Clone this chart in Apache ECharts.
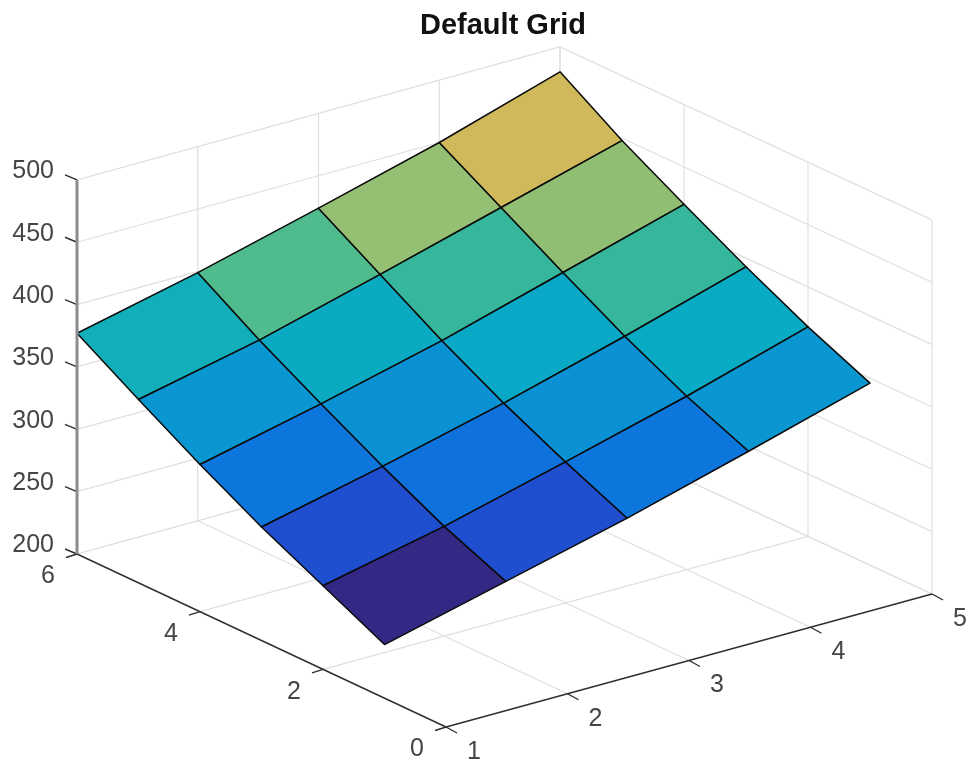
<!DOCTYPE html>
<html>
<head>
<meta charset="utf-8">
<style>html,body{margin:0;padding:0;background:#fff}#c{width:970px;height:762px}</style>
<script src="https://cdn.jsdelivr.net/npm/echarts@6/dist/echarts.min.js"></script>
</head>
<body>
<div id="c"></div>
<script>
// ---- data ----
var titleText = 'Default Grid';
var xValues = [1, 2, 3, 4, 5];
var yValues = [1, 2, 3, 4, 5, 6];
var xTicks = [1, 2, 3, 4, 5];
var yTicks = [0, 2, 4, 6];
var zTicks = [200, 250, 300, 350, 400, 450, 500];
var zRow1 = [243, 267, 291, 318, 346];
var zRow2 = [267, 288, 313, 339, 368];
var zRow3 = [291, 313, 337, 364, 393];
var zRow4 = [318, 340, 364, 392, 420];
var zRow5 = [347, 368, 394, 421, 448];
var zRow6 = [377, 399, 424, 450, 480];
var zRows = [zRow1, zRow2, zRow3, zRow4, zRow5, zRow6];

// ---- colour scale: height of a cell's first corner -> colour ----
var colorLevels = [243, 267, 290, 316, 338, 347, 365, 368, 393, 421];
var colorValues = ['#332985', '#1f4fcf', '#0d75dd', '#0a95d2', '#08a9c5', '#12aeb9', '#38b89a', '#50bc8e', '#93bf73', '#cfb95a'];
function colorFor(z) {
  for (var i = 0; i < colorLevels.length - 1; i++) {
    if (z <= colorLevels[i + 1]) {
      var t = Math.max(0, (z - colorLevels[i]) / (colorLevels[i + 1] - colorLevels[i]));
      return echarts.color.lerp(t, [colorValues[i], colorValues[i + 1]]);
    }
  }
  return colorValues[colorValues.length - 1];
}

// ---- view projection of the 3-D box onto the plane of the hidden 2-D axes ----
var xLim = [1, 5], yLim = [0, 6], zLim = [200, 500];
var floorPx = {a: 446, b: 932, c: 77, d: 560};
var floorPy = {a: 727, b: 594, c: 554, d: 421};
var zPerUnit = 1.247;
function project(x, y, z) {
  var u = (x - xLim[0]) / (xLim[1] - xLim[0]);
  var v = (y - yLim[0]) / (yLim[1] - yLim[0]);
  function mix(k) { return k.a * (1 - u) * (1 - v) + k.b * u * (1 - v) + k.c * (1 - u) * v + k.d * u * v; }
  return [mix(floorPx), mix(floorPy) - (z - zLim[0]) * zPerUnit];
}

var gridColor = '#dfdfdf', axisColor = '#2e2e2e', textColor = '#454545';
var fontFamily = '"Liberation Sans", Arial, Helvetica, sans-serif';

// ---- wall and floor grid lines as 3-D segments ----
var gridSegments = [];
zTicks.forEach(function (z) {
  gridSegments.push([xLim[0], yLim[1], z, xLim[1], yLim[1], z]);
  gridSegments.push([xLim[1], yLim[0], z, xLim[1], yLim[1], z]);
});
xTicks.forEach(function (x) {
  if (x > xLim[0]) {
    gridSegments.push([x, yLim[1], zLim[0], x, yLim[1], zLim[1]]);
    gridSegments.push([x, yLim[0], zLim[0], x, yLim[1], zLim[0]]);
  }
});
yTicks.forEach(function (y) {
  gridSegments.push([xLim[1], y, zLim[0], xLim[1], y, zLim[1]]);
  if (y > yLim[0]) gridSegments.push([xLim[0], y, zLim[0], xLim[1], y, zLim[0]]);
});

// ---- surface cells ----
var cells = [];
for (var j = 0; j < yValues.length - 1; j++) {
  for (var i = 0; i < xValues.length - 1; i++) cells.push([i, j]);
}
// paint back to front
cells.sort(function (a, b) { return (b[1] - b[0]) - (a[1] - a[0]); });

function cellItem(params, api) {
  var i = api.value(0), j = api.value(1);
  var corners = [[i, j], [i + 1, j], [i + 1, j + 1], [i, j + 1]].map(function (c) {
    return api.coord(project(xValues[c[0]], yValues[c[1]], zRows[c[1]][c[0]]));
  });
  return {
    type: 'polygon',
    shape: {points: corners},
    style: {fill: colorFor(zRows[j][i]), stroke: '#0a0a0a', lineWidth: 1.5, lineJoin: 'round'},
    silent: true
  };
}

function gridItem(params, api) {
  var p0 = api.coord(project(api.value(0), api.value(1), api.value(2)));
  var p1 = api.coord(project(api.value(3), api.value(4), api.value(5)));
  return {
    type: 'line',
    shape: {x1: p0[0], y1: p0[1], x2: p1[0], y2: p1[1]},
    style: {stroke: gridColor, lineWidth: 1.2},
    silent: true
  };
}

// axis lines + ticks + tick labels
var axisItems = [];
xTicks.forEach(function (x) { axisItems.push(['x', x]); });
yTicks.forEach(function (y) { axisItems.push(['y', y]); });
zTicks.forEach(function (z) { axisItems.push(['z', z]); });
axisItems.push(['xline', 0], ['yline', 0], ['zline', 0]);

function axisItem(params, api) {
  var kind = api.value(0), val = api.value(1);
  function seg(p, q, color, width) {
    return {type: 'line', shape: {x1: p[0], y1: p[1], x2: q[0], y2: q[1]}, style: {stroke: color, lineWidth: width, lineCap: 'butt'}, silent: true};
  }
  if (kind === 'xline') {
    return seg(api.coord(project(xLim[0], yLim[0], zLim[0])), api.coord(project(xLim[1], yLim[0], zLim[0])), axisColor, 1.4);
  }
  if (kind === 'yline') {
    return seg(api.coord(project(xLim[0], yLim[0], zLim[0])), api.coord(project(xLim[0], yLim[1], zLim[0])), axisColor, 1.4);
  }
  if (kind === 'zline') {
    return seg(api.coord(project(xLim[0], yLim[1], zLim[0])), api.coord(project(xLim[0], yLim[1], zLim[1])), '#8c8c8c', 3);
  }
  var anchor, tick, label, align = 'center';
  if (kind === 'x') {
    anchor = api.coord(project(val, yLim[0], zLim[0]));
    tick = [11, 6]; label = [28, 25];
  } else if (kind === 'y') {
    anchor = api.coord(project(xLim[0], val, zLim[0]));
    tick = [-11, 3.5]; label = [-29, 22.5];
  } else {
    anchor = api.coord(project(xLim[0], yLim[1], val));
    tick = [-12, -5]; label = [-23, -8.5]; align = 'right';
  }
  return {
    type: 'group',
    silent: true,
    children: [
      seg(anchor, [anchor[0] + tick[0], anchor[1] + tick[1]], axisColor, 1.4),
      {
        type: 'text',
        style: {
          x: anchor[0] + label[0], y: anchor[1] + label[1],
          text: String(val), fill: textColor,
          font: '25px ' + fontFamily, textAlign: align, textVerticalAlign: 'middle'
        }
      }
    ]
  };
}

var chart = echarts.init(document.getElementById('c'), null, {renderer: 'canvas'});
chart.setOption({
  animation: false,
  backgroundColor: '#ffffff',
  title: {
    text: titleText, left: 415, top: 6,
    textStyle: {fontFamily: fontFamily, fontSize: 29, fontWeight: 'bold', color: '#111111'}
  },
  tooltip: {show: false},
  grid: {left: 0, top: 0, width: 970, height: 762},
  xAxis: {type: 'value', min: 0, max: 970, show: false},
  yAxis: {type: 'value', min: 0, max: 762, inverse: true, show: false},
  series: [
    {type: 'custom', name: 'grid', clip: false, silent: true, coordinateSystem: 'cartesian2d', data: gridSegments, renderItem: gridItem, z: 1, encode: {x: 0, y: 1}},
    {type: 'custom', name: 'surface', clip: false, silent: true, coordinateSystem: 'cartesian2d', data: cells, renderItem: cellItem, z: 2, encode: {x: 0, y: 1}},
    {type: 'custom', name: 'axes', clip: false, silent: true, coordinateSystem: 'cartesian2d', data: axisItems, renderItem: axisItem, z: 3, dimensions: [{name: 'kind', type: 'ordinal'}, {name: 'val', type: 'number'}], encode: {x: 1, y: 1}}
  ]
});
</script>
</body>
</html>
